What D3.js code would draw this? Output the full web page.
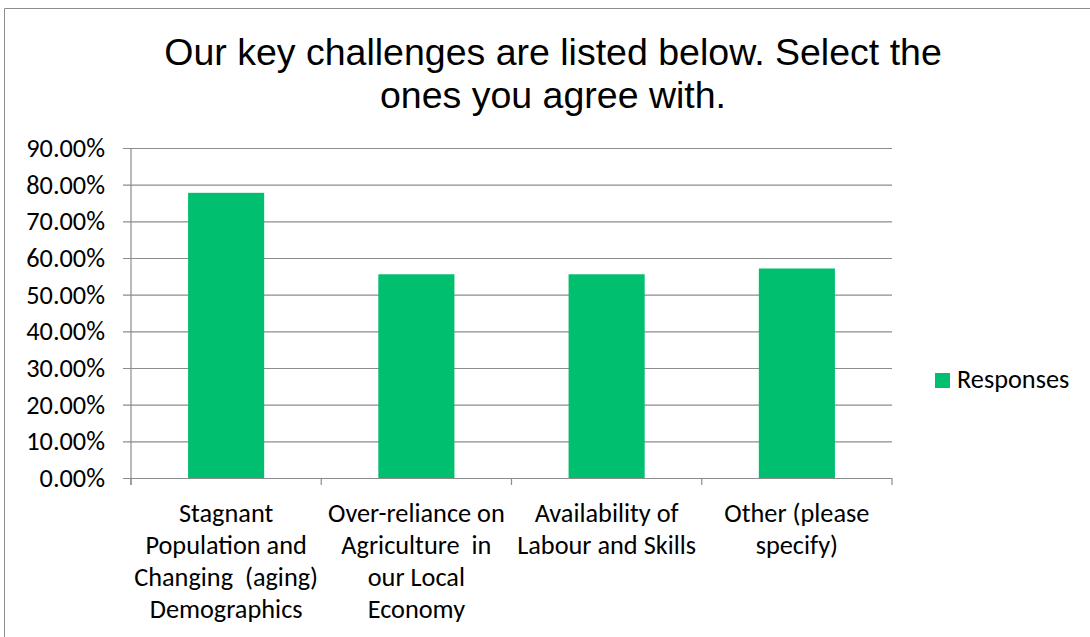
<!DOCTYPE html>
<html>
<head>
<meta charset="utf-8">
<script src="https://cdn.jsdelivr.net/npm/d3@7"></script>
<style>
  html, body { margin: 0; padding: 0; background: #fff; }
  svg { display: block; }
</style>
</head>
<body>
<svg id="chart" width="1090" height="637"></svg>
<script>
// Survey results: share of respondents agreeing with each challenge
const categories = [
  ["Stagnant", "Population and", "Changing  (aging)", "Demographics"],
  ["Over-reliance on", "Agriculture  in", "our Local", "Economy"],
  ["Availability of", "Labour and Skills"],
  ["Other (please", "specify)"]
];
const responses = [0.7778, 0.5556, 0.5556, 0.5714];
const yTicks = [0, 0.1, 0.2, 0.3, 0.4, 0.5, 0.6, 0.7, 0.8, 0.9];
const titleLines = ["Our key challenges are listed below. Select the", "ones you agree with."];
const seriesName = "Responses";

const svg = d3.select("#chart");
const labelFont = "Carlito, Calibri, Lato, 'Open Sans', sans-serif";
const labelSize = 26.3;
const barColor = "#00BF6F";
const gridColor = "#8c8c8c";

// Outer chart border
svg.append("path")
  .attr("d", "M4.5,637 V8.5 H1090")
  .attr("fill", "none")
  .attr("stroke", gridColor)
  .attr("stroke-width", 1);

// Title
const title = svg.append("text")
  .attr("text-anchor", "middle")
  .attr("font-family", "'Liberation Sans', Arial, sans-serif")
  .attr("font-size", 37.5)
  .attr("fill", "#000");
titleLines.forEach((t, i) => {
  title.append("tspan").attr("x", 553).attr("y", 65 + i * 43).text(t);
});

const plot = { left: 131, right: 892, top: 148, bottom: 478 };

const x = d3.scaleBand()
  .domain(d3.range(categories.length))
  .range([plot.left, plot.right])
  .paddingInner(0.6)
  .paddingOuter(0.3);

const y = d3.scaleLinear()
  .domain([0, 0.9])
  .range([plot.bottom, plot.top]);

// Horizontal gridlines with small outer ticks
const yAxis = d3.axisLeft(y)
  .tickValues(yTicks)
  .tickFormat(d3.format(".2%"))
  .tickSize(-(plot.right - plot.left))
  .tickPadding(0);

const gy = svg.append("g")
  .attr("transform", `translate(${plot.left},0)`)
  .call(yAxis);
gy.select(".domain").remove();
gy.selectAll(".tick line")
  .attr("x1", -8)
  .attr("stroke", gridColor)
  .attr("stroke-width", 1.2);
gy.selectAll(".tick text")
  .attr("x", -26)
  .attr("font-family", labelFont)
  .attr("font-size", labelSize)
  .attr("fill", "#000");

// Vertical axis line
svg.append("line")
  .attr("x1", plot.left).attr("x2", plot.left)
  .attr("y1", plot.top).attr("y2", plot.bottom + 7)
  .attr("stroke", gridColor).attr("stroke-width", 1.2);

// Category separator ticks along the baseline
const sepStep = (plot.right - plot.left) / categories.length;
svg.append("g").selectAll("line")
  .data(d3.range(categories.length + 1))
  .join("line")
  .attr("x1", i => plot.left + i * sepStep)
  .attr("x2", i => plot.left + i * sepStep)
  .attr("y1", plot.bottom)
  .attr("y2", plot.bottom + 7)
  .attr("stroke", gridColor).attr("stroke-width", 1.2);

// Bars
svg.append("g").selectAll("rect")
  .data(responses)
  .join("rect")
  .attr("x", (d, i) => x(i))
  .attr("width", x.bandwidth())
  .attr("y", d => y(d))
  .attr("height", d => y(0) - y(d))
  .attr("fill", barColor);

// Category labels
const catG = svg.append("g")
  .attr("font-family", labelFont)
  .attr("font-size", labelSize)
  .attr("fill", "#000")
  .attr("text-anchor", "middle");
categories.forEach((lines, i) => {
  const cx = x(i) + x.bandwidth() / 2;
  const t = catG.append("text").attr("xml:space", "preserve");
  lines.forEach((ln, j) => {
    t.append("tspan").attr("x", cx).attr("y", 522 + j * 32).text(ln);
  });
});

// Legend
const leg = svg.append("g").attr("transform", "translate(935,373)");
leg.append("rect").attr("width", 15).attr("height", 15).attr("fill", barColor);
leg.append("text")
  .attr("x", 22).attr("y", 15)
  .attr("font-family", labelFont)
  .attr("font-size", labelSize)
  .attr("fill", "#000")
  .text(seriesName);
</script>
</body>
</html>
